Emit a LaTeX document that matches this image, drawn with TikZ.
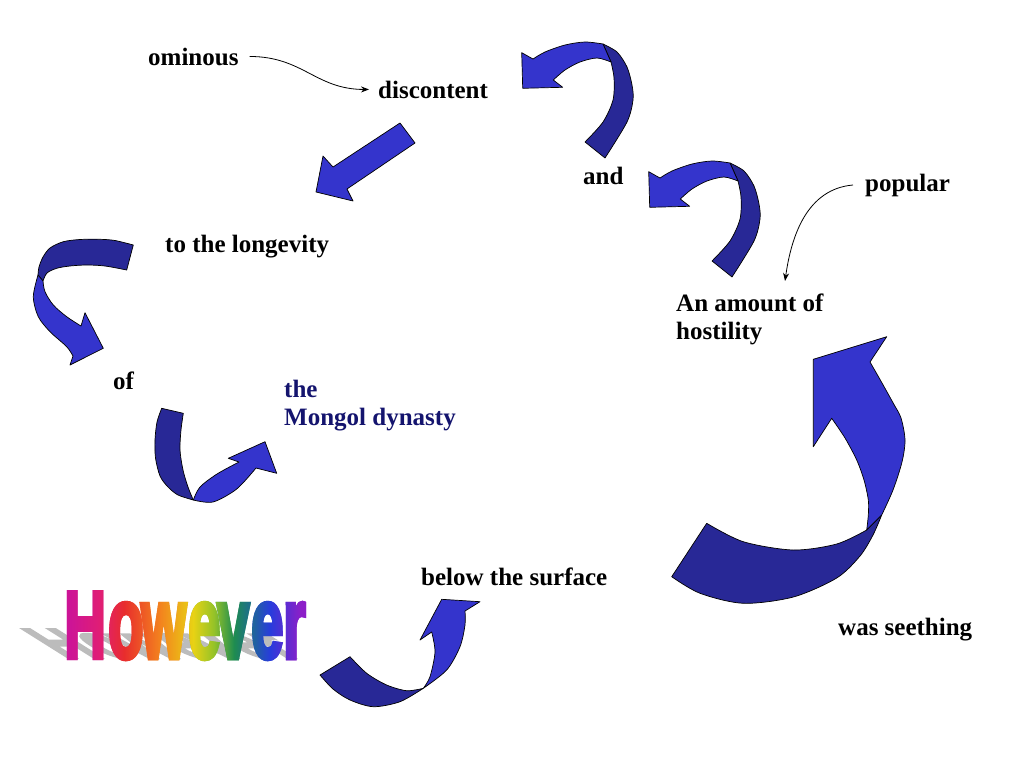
\documentclass[tikz,border=0pt]{standalone}
\usepackage{fontspec}
\setmainfont{Liberation Serif}
\newfontfamily\artfont[FakeBold=4.5]{Liberation Sans Bold}
\usetikzlibrary{arrows.meta,fadings}
\definecolor{rlight}{RGB}{52,52,204}
\definecolor{rdark}{RGB}{40,40,150}
\definecolor{navytxt}{RGB}{20,20,110}
\definecolor{shadowgray}{RGB}{188,188,188}
\definecolor{cH}{RGB}{205,20,150}
\definecolor{cHb}{RGB}{225,30,115}
\definecolor{co}{RGB}{232,45,45}
\definecolor{cw}{RGB}{243,130,30}
\definecolor{cy}{RGB}{232,210,20}
\definecolor{ce}{RGB}{150,195,40}
\definecolor{cv}{RGB}{30,140,80}
\definecolor{ct}{RGB}{30,110,140}
\definecolor{cee}{RGB}{40,60,220}
\definecolor{cr}{RGB}{140,30,200}
\pgfdeclarehorizontalshading{rainbowart}{100bp}{color(0bp)=(cH); color(27bp)=(cH); color(33bp)=(cHb); color(37.5bp)=(co); color(44.5bp)=(cw); color(51bp)=(cy); color(55bp)=(ce); color(59bp)=(cv); color(62bp)=(ct); color(66bp)=(cee); color(72bp)=(cr); color(100bp)=(cr)}
\newcommand{\curlTopRibbon}{%
  \path[back] plot[smooth] coordinates {(603,44) (617,52) (627,67) (632,85) (633,100) (627,122) (605,158)}
     -- plot[smooth] coordinates {(585,142) (603,122) (613,100) (614,78) (611,62)} -- cycle;
  \path[front] plot[smooth] coordinates {(603,44) (585,42) (565,45) (545,52) (533,59)}
     -- (521.7,52.7) -- (522.7,88.3) -- (562.7,87.3)
     -- plot[smooth] coordinates {(553.3,80) (565,70) (580,62) (597,58) (611,62)} -- cycle;
}
\tikzset{wa/.style={font=\artfont\fontsize{58}{58}\selectfont, inner sep=0pt, anchor=base west}}
\begin{tikzfadingfrompicture}[name=howeverfade, x=1pt, y=-1pt]
  \path (-140,-60) rectangle (140,60);
  \foreach \px/\ch/\sc in {64/H/1.65, 108/o/1.76, 141/w/1.76, 188/e/1.76, 217/v/1.76, 251/e/1.76, 283/r/1.76}
    \node[wa, text=transparent!0] at (\px-187,35) {\scalebox{1}[\sc]{\ch}};
\end{tikzfadingfrompicture}
\begin{document}
\begin{tikzpicture}[x=1pt,y=-1pt,
  lbl/.style={font=\fontsize{25}{28}\selectfont\bfseries, inner sep=0pt, anchor=base west},
  front/.style={fill=rlight, draw=black, line width=0.7pt, line join=round},
  back/.style={fill=rdark, draw=black, line width=0.7pt, line join=round},
  thinarrow/.style={-{Stealth[length=8pt,width=6pt]}, line width=0.8pt},
  ]
\useasboundingbox (0,0) rectangle (1024,768);
\fill[white] (0,0) rectangle (1024,768);

% ---- labels ----
\node[lbl] (ominous) at (148,65) {ominous};
\node[lbl] (discontent) at (378,98) {discontent};
\node[lbl] (and) at (583,184) {and};
\node[lbl] (popular) at (865,191) {popular};
\node[lbl] (longevity) at (165,252) {to the longevity};
\node[lbl] (amount) at (676,311) {An amount of};
\node[lbl] (hostility) at (676,339) {hostility};
\node[lbl] (of) at (113,389) {of};
\node[lbl,text=navytxt] (the) at (284,397) {the};
\node[lbl,text=navytxt] (mongol) at (284,425) {Mongol dynasty};
\node[lbl] (below) at (421,585) {below the surface};
\node[lbl] (seething) at (838,635) {was seething};
\coordinate (popend) at (785,281);

% ---- thin connectors ----
\draw[thinarrow] ([xshift=11pt]ominous.east) to[out=0,in=180,looseness=1.1] ([xshift=-9pt]discontent.west);
\draw[thinarrow] ([xshift=-12pt]popular.west) to[out=185,in=82] (popend);

% ---- straight block arrow ----
\path[front] (400,123) -- (415,143) -- (347,189) -- (353,201) -- (316,192) -- (323,156) -- (333,167) -- cycle;

% ---- curved ribbon arrows ----
\curlTopRibbon
\begin{scope}[shift={(127,119)}]
  \curlTopRibbon
\end{scope}

% C : to the longevity -> of
\path[back] plot[smooth] coordinates {(133.3,245) (115,240.5) (100,239.3) (80,239.5) (63.3,241.7) (50,248) (43,257) (39,267) (38,275)}
   -- plot[smooth] coordinates {(43,281) (47,273) (56.7,268.3) (70,266) (86.7,265) (105,266) (126.7,270)} -- cycle;
\path[front] plot[smooth] coordinates {(38,275) (33.3,296.7) (38.3,316.7) (50,331.7) (66.7,346.7) (73,356)}
   -- (70,365) -- (103.3,348.3) -- (85,312.7)
   -- plot[smooth] coordinates {(81,326) (66.7,316.7) (53.3,305) (45,291.7) (43,281)} -- cycle;

% D : of -> the Mongol dynasty
\path[back] plot[smooth] coordinates {(161.7,408.3) (157,422) (155,440) (155.5,458) (160,476) (168,487) (178,495) (193.3,500)}
   -- plot[smooth] coordinates {(193.3,500) (188,487) (183,470) (180,450) (181,430) (183.3,413.3)} -- cycle;
\path[front] plot[smooth] coordinates {(193.3,500) (213,502) (236.7,489) (256,468)}
   -- (276.7,473.3) -- (265,441.7) -- (228.3,458.3)
   -- plot[smooth] coordinates {(239,462) (217,474) (200,487) (193.3,500)} -- cycle;

% E : However -> below the surface
\path[back] plot[smooth] coordinates {(320,675) (333,689) (350,700) (373.3,706.7) (400,701.7) (423.3,688.3)}
   -- plot[smooth] coordinates {(423.3,688.3) (406.7,690.7) (386.7,685) (366.7,673.3) (350,656.7)} -- cycle;
\path[front] plot[smooth] coordinates {(423.3,688.3) (446.7,670) (460,646.7) (465,625) (465,611)}
   -- (480,601.7) -- (441.7,599.3) -- (420,640)
   -- plot[smooth] coordinates {(431.7,632) (435,652) (430,676.7) (423.3,688.3)} -- cycle;

% F : was seething -> An amount of hostility
\path[back] plot[smooth] coordinates {(671.7,576.7) (700,593.3) (743.3,603.3) (793.3,597) (836.7,578) (860,556) (873,535) (881.7,515)}
   -- plot[smooth] coordinates {(866.7,530) (836.7,544) (793.3,550) (743.3,541.7) (706.7,523.3)} -- cycle;
\path[front] plot[smooth] coordinates {(881.7,515) (893,490) (902,462) (905,440) (901,418) (893.3,403.3) (882,383) (870,362)}
   -- (886.7,336.7) -- (813.3,359.3) -- (813.3,446.7)
   -- plot[smooth] coordinates {(831.7,418.3) (845,438) (856.7,460) (864,480) (868.3,500) (868.3,515) (866.7,530)} -- cycle;

% ---- However word art ----
\begin{scope}[shift={(0,658)}, cm={1,0,-0.7,0.44,(0,0)}]
  \foreach \px/\ch/\sc in {64/H/1.65, 108/o/1.76, 141/w/1.76, 188/e/1.76, 217/v/1.76, 251/e/1.76, 283/r/1.76}
    \node[wa, text=shadowgray, transform shape] at (\px,0) {\scalebox{1}[\sc]{\ch}};
\end{scope}
\node[wa, text=cH] (lH) at (64,658) {\scalebox{1}[1.65]{H}};
\node[wa, text=co] (lo) at (108,658) {\scalebox{1}[1.76]{o}};
\node[wa, text=cw] (lw) at (141,658) {\scalebox{1}[1.76]{w}};
\node[wa, text=ce] (le1) at (188,658) {\scalebox{1}[1.76]{e}};
\node[wa, text=cv] (lv) at (217,658) {\scalebox{1}[1.76]{v}};
\node[wa, text=cee] (le2) at (251,658) {\scalebox{1}[1.76]{e}};
\node[wa, text=cr] (lr) at (283,658) {\scalebox{1}[1.76]{r}};
\path[shading=rainbowart, path fading=howeverfade, fit fading=false, fading transform={shift={(187,623)}}]
  (60,575) rectangle (316,672);
\end{tikzpicture}
\end{document}
